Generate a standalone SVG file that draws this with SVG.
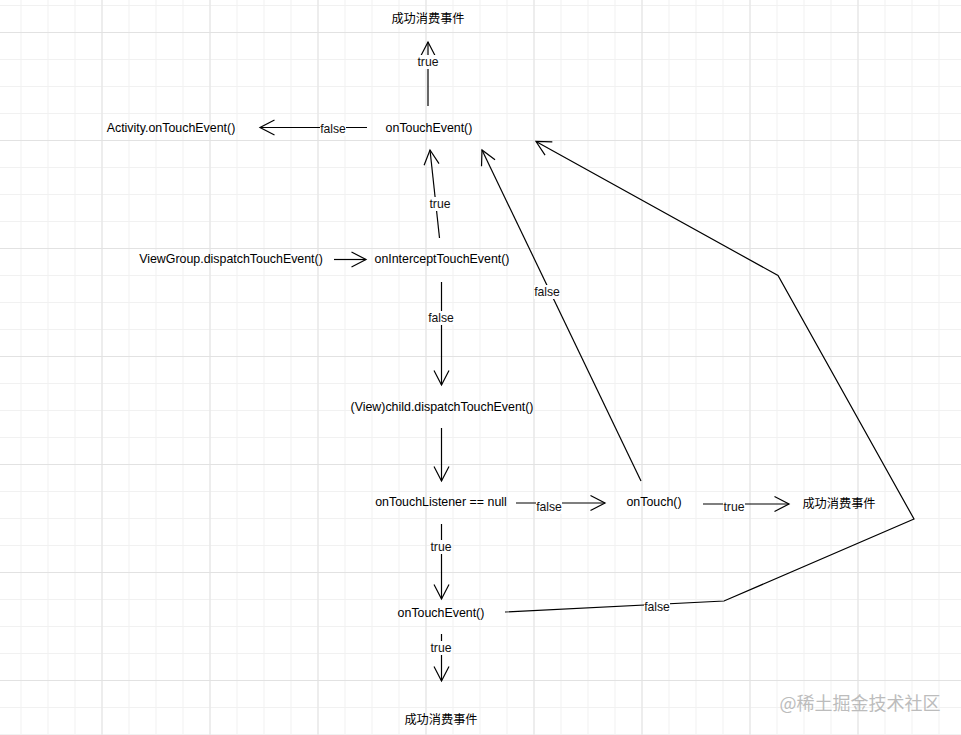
<svg xmlns="http://www.w3.org/2000/svg" width="961" height="735" viewBox="0 0 961 735">
<defs>
<pattern id="minor" x="101.5" y="32" width="27" height="27" patternUnits="userSpaceOnUse">
<path d="M0.5 0 V27 M0 0.5 H27" fill="none" stroke="#f1f1f1" stroke-width="1"/>
</pattern>
<pattern id="major" x="101.5" y="32" width="108" height="108" patternUnits="userSpaceOnUse">
<path d="M0.5 0 V108 M0 0.5 H108" fill="none" stroke="#e2e2e2" stroke-width="1"/>
</pattern>
<marker id="arr" markerUnits="userSpaceOnUse" markerWidth="20" markerHeight="20" refX="16" refY="8" orient="auto" overflow="visible">
<path d="M1.5 0.5 L16 8 L1.5 15.5" fill="none" stroke="#000" stroke-width="1.2"/>
</marker>
</defs>
<style>
.n{font-family:"Liberation Sans",Arial,"Noto Sans CJK SC",sans-serif;font-size:12.4px;fill:#000;text-anchor:middle}
.c{font-family:"Noto Sans CJK SC","Liberation Sans",sans-serif;font-size:12.2px;fill:#000;text-anchor:middle}
.l{font-family:"Liberation Sans",Arial,sans-serif;font-size:12.2px;fill:#111;text-anchor:middle}
.e{fill:none;stroke:#000;stroke-width:1.2}
.bg{fill:#fff}
</style>
<rect width="961" height="735" fill="#fff"/>
<rect width="961" height="735" fill="url(#minor)"/>
<rect width="961" height="735" fill="url(#major)"/>

<g id="connectors">
<line class="e" x1="428" y1="106" x2="428" y2="42" marker-end="url(#arr)"/>
<line class="e" x1="367" y1="127.5" x2="260" y2="127.5" marker-end="url(#arr)"/>
<line class="e" x1="439.5" y1="238" x2="430" y2="150" marker-end="url(#arr)"/>
<line class="e" x1="334" y1="259.5" x2="366" y2="259.5" marker-end="url(#arr)"/>
<line class="e" x1="441.5" y1="282" x2="441.5" y2="385" marker-end="url(#arr)"/>
<line class="e" x1="441.5" y1="428" x2="441.5" y2="481" marker-end="url(#arr)"/>
<line class="e" x1="516" y1="503" x2="605" y2="503" marker-end="url(#arr)"/>
<line class="e" x1="703" y1="504" x2="789" y2="504" marker-end="url(#arr)"/>
<line class="e" x1="441.5" y1="524" x2="441.5" y2="599" marker-end="url(#arr)"/>
<line class="e" x1="441.5" y1="634" x2="441.5" y2="681" marker-end="url(#arr)"/>
<line class="e" x1="641" y1="481" x2="482" y2="150" marker-end="url(#arr)"/>
<polyline class="e" points="505,612 724,601 914,519 778,275.5 536,141.5" marker-end="url(#arr)"/>
<g id="edge-labels">
<rect class="bg" x="417" y="55" width="22" height="14"/><text class="l" x="428" y="66">true</text>
<rect class="bg" x="320" y="122" width="26" height="14"/><text class="l" x="333" y="133">false</text>
<rect class="bg" x="429" y="197" width="22" height="14"/><text class="l" x="440" y="208">true</text>
<rect class="bg" x="428" y="311" width="27" height="14"/><text class="l" x="441" y="322">false</text>
<rect class="bg" x="536" y="500" width="26" height="14"/><text class="l" x="549" y="511">false</text>
<rect class="bg" x="723" y="500" width="22" height="14"/><text class="l" x="734" y="511">true</text>
<rect class="bg" x="430" y="540" width="22" height="14"/><text class="l" x="441" y="551">true</text>
<rect class="bg" x="430" y="641" width="22" height="14"/><text class="l" x="441" y="652">true</text>
<rect class="bg" x="534" y="285" width="26" height="14"/><text class="l" x="547" y="296">false</text>
<rect class="bg" x="644" y="600" width="26" height="14"/><text class="l" x="657" y="611">false</text>
</g>
</g>

<g id="n-success-top"><text class="c" x="428" y="22.5">成功消费事件</text></g>
<g id="n-ontouchevent-top"><text class="n" x="429" y="132">onTouchEvent()</text></g>
<g id="n-activity"><text class="n" x="171" y="132">Activity.onTouchEvent()</text></g>
<g id="n-viewgroup"><text class="n" x="231" y="263">ViewGroup.dispatchTouchEvent()</text></g>
<g id="n-intercept"><text class="n" x="442" y="263">onInterceptTouchEvent()</text></g>
<g id="n-child"><text class="n" x="442" y="411">(View)child.dispatchTouchEvent()</text></g>
<g id="n-listener"><text class="n" x="441" y="506">onTouchListener == null</text></g>
<g id="n-ontouch"><text class="n" x="654" y="506">onTouch()</text></g>
<g id="n-success-right"><text class="c" x="839" y="507.5">成功消费事件</text></g>
<g id="n-ontouchevent-bottom"><text class="n" x="441" y="617">onTouchEvent()</text></g>
<g id="n-success-bottom"><text class="c" x="441" y="723.5">成功消费事件</text></g>

<text x="860" y="709.5" style="font-family:'Noto Sans CJK SC','Liberation Sans',sans-serif;font-size:18px;fill:#bcbcbc;text-anchor:middle">@稀土掘金技术社区</text>
</svg>
